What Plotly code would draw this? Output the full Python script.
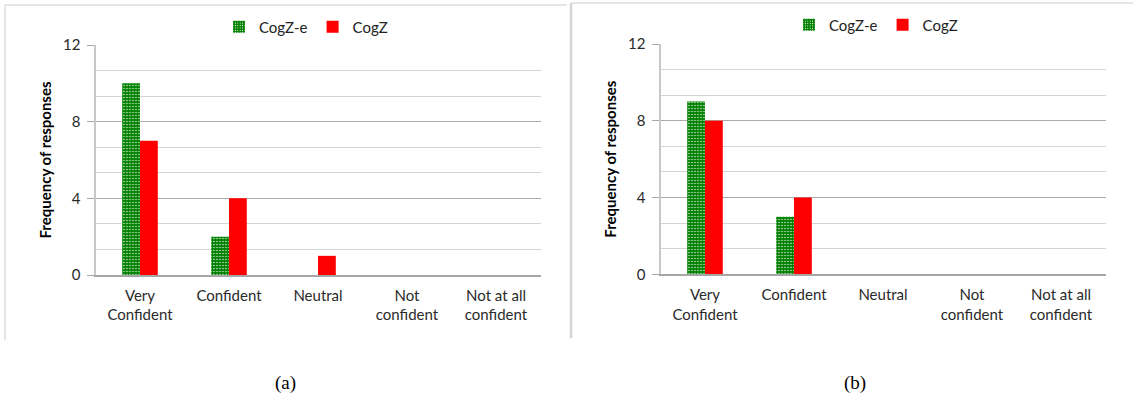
import plotly.graph_objects as go

categories = ["Very<br>Confident", "Confident", "Neutral", "Not<br>confident", "Not at all<br>confident"]
series_names = ["CogZ-e", "CogZ"]
a_cogze = [10, 2, 0, 0, 0]
a_cogz = [7, 4, 1, 0, 0]
b_cogze = [9, 3, 0, 0, 0]
b_cogz = [8, 4, 0, 0, 0]
y_ticks = [0, 4, 8, 12]
captions = ["(a)", "(b)"]

W, H = 1136, 404
GREEN = "#008000"
RED = "#ff0000"
FONT = "Lato"

fig = go.Figure()

def add_pair(xa, ya, ve, vz, legend):
    fig.add_trace(go.Bar(
        x=categories, y=ve, name=series_names[0], xaxis=xa, yaxis=ya, legend=legend,
        marker=dict(color=GREEN, line=dict(width=0),
                    pattern=dict(shape=".", fgcolor="white", bgcolor=GREEN,
                                 size=3, solidity=0.15, fillmode="replace")),
    ))
    fig.add_trace(go.Bar(
        x=categories, y=vz, name=series_names[1], xaxis=xa, yaxis=ya, legend=legend,
        marker=dict(color=RED, line=dict(width=0)),
    ))

add_pair("x", "y", a_cogze, a_cogz, "legend")
add_pair("x2", "y2", b_cogze, b_cogz, "legend2")

def px_x(p):
    return p / W

def px_y(p):
    return 1 - p / H

xaxis_common = dict(
    type="category", showline=True, linecolor="#a6a6a6", linewidth=1.5,
    showgrid=False, ticks="outside", ticklen=6, tickcolor="rgba(0,0,0,0)",
    tickfont=dict(family=FONT, size=15, color="#2a2a2a"), fixedrange=True,
    automargin=False,
)
yaxis_common = dict(
    range=[0, 12], tickvals=y_ticks, showline=True, linecolor="#c8c8c8", linewidth=2,
    ticks="outside", ticklen=7, tickcolor="#a6a6a6", tickwidth=1,
    showgrid=True, gridcolor="#ababab", gridwidth=1.3, zeroline=False,
    minor=dict(dtick=4 / 3, tick0=0, showgrid=True, gridcolor="#d4d4d4", gridwidth=1.3, ticks=""),
    tickfont=dict(family=FONT, size=15, color="#2a2a2a"),
    title=dict(text="<b>Frequency of responses</b>", font=dict(family=FONT, size=15, color="black"), standoff=8),
    ticklabelstandoff=3, automargin=False, fixedrange=True,
)

fig.update_layout(
    width=W, height=H, margin=dict(l=0, r=0, t=0, b=0, pad=0, autoexpand=False),
    paper_bgcolor="white", plot_bgcolor="white",
    barmode="group", bargap=0.6, bargroupgap=0,
    xaxis=dict(domain=[px_x(95.5), px_x(540.5)], anchor="y", **xaxis_common),
    yaxis=dict(domain=[px_y(275), px_y(45)], anchor="x", **yaxis_common),
    xaxis2=dict(domain=[px_x(660.5), px_x(1105.5)], anchor="y2", **xaxis_common),
    yaxis2=dict(domain=[px_y(274.3), px_y(44)], anchor="x2", **yaxis_common),
    legend=dict(orientation="h", x=px_x(306), xanchor="center", y=px_y(27), yanchor="middle",
                font=dict(family=FONT, size=15, color="#222222"), itemwidth=30,
                bgcolor="rgba(0,0,0,0)"),
    legend2=dict(orientation="h", x=px_x(876), xanchor="center", y=px_y(25), yanchor="middle",
                 font=dict(family=FONT, size=15, color="#222222"), itemwidth=30,
                 bgcolor="rgba(0,0,0,0)"),
    showlegend=True,
)

border = dict(color="#dcdcdc", width=1.5)
shapes = [
    dict(type="line", xref="paper", yref="paper", x0=px_x(5), x1=px_x(5), y0=px_y(340), y1=px_y(5), line=border),
    dict(type="line", xref="paper", yref="paper", x0=px_x(5), x1=px_x(567), y0=px_y(5), y1=px_y(5), line=border),
    dict(type="line", xref="paper", yref="paper", x0=px_x(571), x1=px_x(571), y0=px_y(338), y1=px_y(3), line=dict(color="#d4d4d4", width=2.5)),
    dict(type="line", xref="paper", yref="paper", x0=px_x(571), x1=px_x(1133), y0=px_y(3), y1=px_y(3), line=border),
]
fig.update_layout(shapes=shapes)

for cap, cx in zip(captions, [285, 855]):
    fig.add_annotation(text=cap, xref="paper", yref="paper", x=px_x(cx), y=px_y(383),
                       xanchor="center", yanchor="middle", showarrow=False,
                       font=dict(family="Liberation Serif", size=19, color="black"))

fig.write_html("out.html", config={"displayModeBar": False},
               post_script="document.body.style.margin='0';")
